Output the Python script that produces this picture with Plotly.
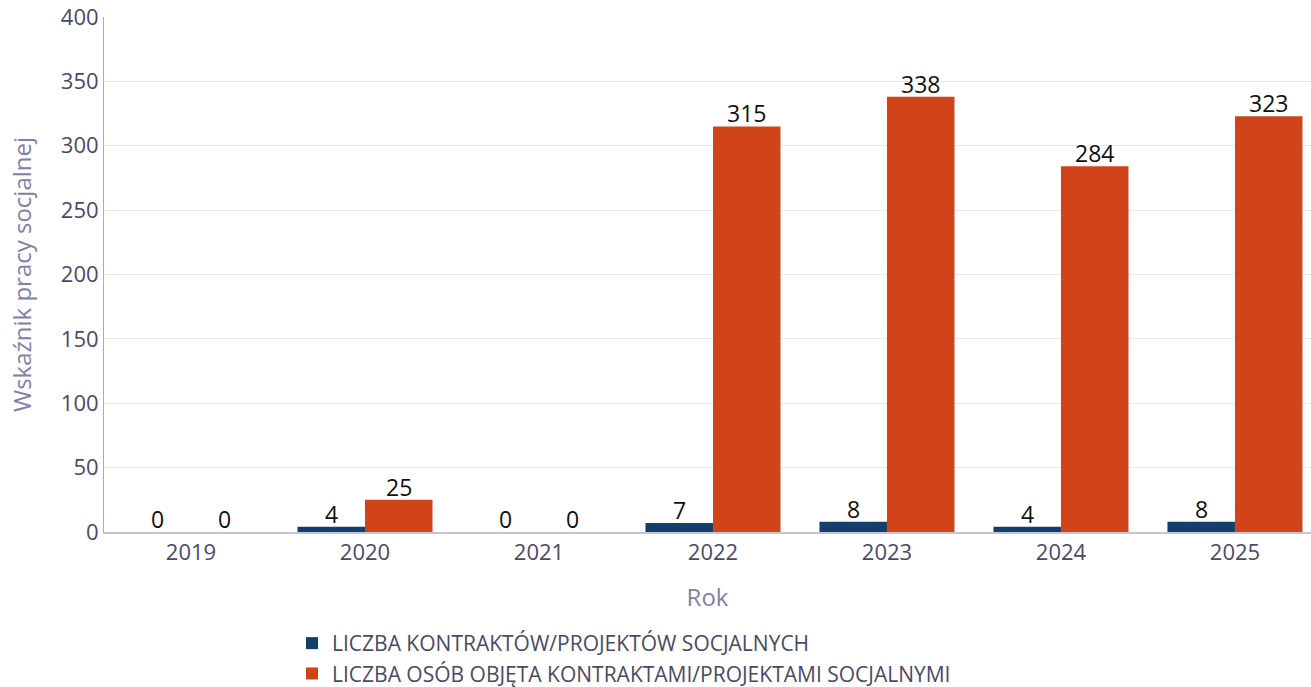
import plotly.graph_objects as go

years = ["2019", "2020", "2021", "2022", "2023", "2024", "2025"]
contracts = [0, 4, 0, 7, 8, 4, 8]
persons = [0, 25, 0, 315, 338, 284, 323]
series_names = ["LICZBA KONTRAKTÓW/PROJEKTÓW SOCJALNYCH",
                "LICZBA OSÓB OBJĘTA KONTRAKTAMI/PROJEKTAMI SOCJALNYMI"]
y_ticks = [0, 50, 100, 150, 200, 250, 300, 350, 400]

W, H = 1311, 687
ML, MR, MT, MB = 104, 0, 17, 155
BARGAP = 0.224
X_RANGE = [-0.5, 6.437]

fig = go.Figure()
fig.add_trace(go.Bar(
    x=years, y=contracts, name=series_names[0],
    marker=dict(color="#143e6c", line=dict(width=0)),
))
fig.add_trace(go.Bar(
    x=years, y=persons, name=series_names[1],
    marker=dict(color="#d1441a", line=dict(width=0)),
))

# value labels just above each bar (category index positions on the x axis)
plot_w = W - ML - MR
cat_px = plot_w / (X_RANGE[1] - X_RANGE[0])
half_bar = float(cat_px * (1 - BARGAP) / 4)
annotations = []
for series, sign in ((contracts, -1), (persons, 1)):
    for i, v in enumerate(series):
        annotations.append(dict(
            x=i, y=v, xref="x", yref="y", text=str(v), showarrow=False,
            xanchor="center", yanchor="bottom", xshift=sign * half_bar, yshift=-5,
            font=dict(size=23, color="#111111", family="Open Sans"),
        ))

plot_h = H - MT - MB

fig.update_layout(
    width=W, height=H,
    margin=dict(l=ML, r=MR, t=MT, b=MB, autoexpand=False),
    barmode="group", bargap=BARGAP, bargroupgap=0,
    plot_bgcolor="white", paper_bgcolor="white",
    font=dict(family="Open Sans", color="#4a4a66", size=22),
    showlegend=True,
    legend=dict(orientation="v", x=(292 - ML) / plot_w, xanchor="left",
                y=(H - MB - 623) / plot_h, yanchor="top",
                font=dict(size=21, color="#4a4a66"), traceorder="normal",
                itemwidth=30, tracegroupgap=0, bgcolor="rgba(0,0,0,0)"),
    annotations=annotations,
)
fig.update_xaxes(
    type="category", range=X_RANGE, automargin=False,
    showline=True, linecolor="#c4c4d4", linewidth=2,
    ticks="", tickfont=dict(size=22, color="#4a4a66"),
    title=dict(text="Rok", font=dict(size=24, color="#8080a8"), standoff=24),
)
fig.update_yaxes(
    range=[0, 400], tickvals=y_ticks, automargin=False,
    showgrid=True, gridcolor="#e8e8ef", gridwidth=1,
    showline=True, linecolor="#a8a8c8", linewidth=1,
    zeroline=False,
    tickfont=dict(size=22, color="#4a4a66"),
    title=dict(text="Wskaźnik pracy socjalnej", font=dict(size=24, color="#8080a8"), standoff=22),
)

fig.write_html("out.html", config={"displayModeBar": False},
               post_script="document.body.style.margin='0';")
